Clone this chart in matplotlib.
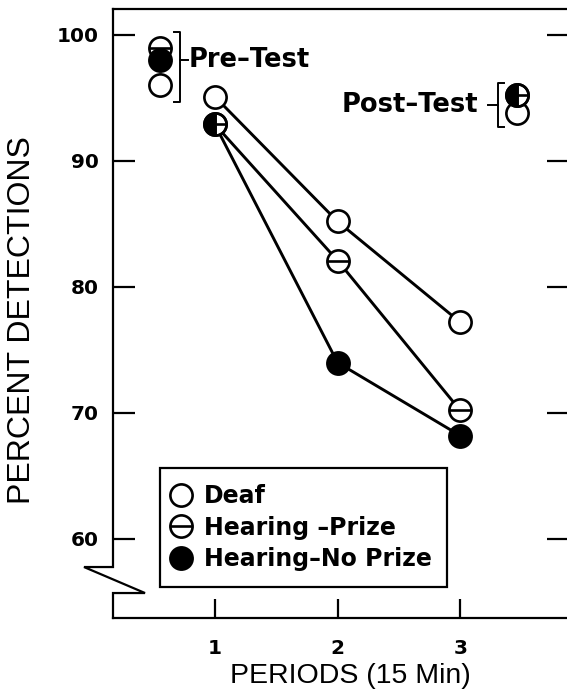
import matplotlib

matplotlib.use("Agg")

import matplotlib.pyplot as plt  # isort: skip
from matplotlib.lines import Line2D  # isort: skip


periods = [1, 2, 3]
period_labels = ["1", "2", "3"]
deaf = [95.1, 85.2, 77.2]
hearing_prize = [92.9, 82.1, 70.2]
hearing_no_prize = [92.9, 74.0, 68.2]

# deaf, hearing-prize, hearing-no prize
pre_test = [96.0, 99.0, 98.0]
post_test = [93.8, 95.2, 95.2]

y_ticks = [60, 70, 80, 90, 100]

PRE_X = 0.55
POST_X = 3.46

MS = 16
MEW = 1.9
LW = 2.1
BOLD = {"family": "DejaVu Sans", "weight": "bold"}
PLAIN = {"family": "Liberation Sans"}
DASH = "\u2013"


def open_circle(ax, x, y):
    ax.plot(x, y, "o", ls="none", ms=MS, mfc="white", mec="black", mew=MEW, zorder=3)


def bar_circle(ax, x, y):
    open_circle(ax, x, y)
    ax.plot(x, y, "_", ls="none", ms=MS, mec="black", mew=MEW, zorder=3)


def filled_circle(ax, x, y, fillstyle="full"):
    ax.plot(x, y, "o", ls="none", ms=MS, mfc="black", mec="black", mew=MEW,
            fillstyle=fillstyle, markerfacecoloralt="none", zorder=4)


def draw_no_prize(ax, xs, ys, ref):
    # where the two hearing groups coincide, show a half-filled symbol
    for x, y, r in zip(xs, ys, ref):
        filled_circle(ax, [x], [y], "left" if y == r else "full")


fig = plt.figure(figsize=(5.67, 7.0), dpi=100)
ax = fig.add_axes([113 / 567, 82 / 700, 456 / 567, 609 / 700])

# connected lines for the test periods
for series in (deaf, hearing_prize, hearing_no_prize):
    ax.plot(periods, series, color="black", lw=LW, zorder=2)

open_circle(ax, periods, deaf)
bar_circle(ax, periods, hearing_prize)
draw_no_prize(ax, periods, hearing_no_prize, hearing_prize)

# pre-test
bar_circle(ax, [PRE_X], [pre_test[1]])
filled_circle(ax, [PRE_X], [pre_test[2]])
open_circle(ax, [PRE_X], [pre_test[0]])

# post-test
open_circle(ax, [POST_X], [post_test[0]])
bar_circle(ax, [POST_X], [post_test[1]])
draw_no_prize(ax, [POST_X], [post_test[2]], [post_test[1]])

# brackets
lo, hi = min(pre_test) - 1.3, max(pre_test) + 1.2
bx = PRE_X + 0.165
ax.plot([bx - 0.05, bx, bx, bx - 0.05], [hi, hi, lo, lo], color="black", lw=1.4)
ax.plot([bx, bx + 0.07], [98.0, 98.0], color="black", lw=1.4)
ax.text(bx + 0.07, 98.0, f"Pre{DASH}Test", fontsize=18.5, ha="left", va="center", **BOLD)

lo, hi = min(post_test) - 1.1, max(post_test) + 1.0
bx = POST_X - 0.155
ax.plot([bx + 0.05, bx, bx, bx + 0.05], [hi, hi, lo, lo], color="black", lw=1.4)
ymid = (lo + hi) / 2
ax.plot([bx - 0.08, bx], [ymid, ymid], color="black", lw=1.4)
ax.text(bx - 0.16, ymid, f"Post{DASH}Test", fontsize=18.5, ha="right", va="center", **BOLD)

ax.set_xlim(0.17, 3.886)
ax.set_ylim(53.73, 102.06)
ax.set_xticks(periods)
ax.set_xticklabels(period_labels)
ax.set_yticks(y_ticks)
ax.tick_params(axis="y", direction="in", length=16, width=1.6, right=True, pad=10)
ax.tick_params(axis="x", direction="in", length=14, width=1.6, pad=15)
for lab in ax.get_xticklabels() + ax.get_yticklabels():
    lab.set_fontsize(14.5)
    lab.set_fontfamily("DejaVu Sans")
    lab.set_fontweight("bold")

for side in ("top", "bottom", "right"):
    ax.spines[side].set_linewidth(1.6)
ax.spines["left"].set_visible(False)

# left axis with a break near the bottom
brk = [(0, 1), (0, 0.0837), (-0.0636, 0.0837), (0.0702, 0.041), (0, 0.041), (0, 0)]
ax.plot([p[0] for p in brk], [p[1] for p in brk], color="black", lw=1.6,
        transform=ax.transAxes, clip_on=False, solid_joinstyle="miter")

handles = [
    Line2D([], [], marker="o", ls="none", ms=MS, mfc="white", mec="black", mew=MEW),
    (Line2D([], [], marker="o", ls="none", ms=MS, mfc="white", mec="black", mew=MEW),
     Line2D([], [], marker="_", ls="none", ms=MS, mec="black", mew=MEW)),
    Line2D([], [], marker="o", ls="none", ms=MS, mfc="black", mec="black", mew=MEW),
]
labels = ["Deaf", f"Hearing {DASH}Prize", f"Hearing{DASH}No Prize"]
leg = ax.legend(handles, labels, loc="lower left", bbox_to_anchor=(0.103, 0.051),
                borderaxespad=0, fancybox=False, framealpha=1, edgecolor="black",
                handlelength=0.47, handletextpad=0.72, labelspacing=0.33,
                borderpad=0.66, prop={"family": "DejaVu Sans", "weight": "bold", "size": 17})
leg.get_frame().set_linewidth(1.6)

fig.text(22 / 567, 1 - 320 / 700, "PERCENT DETECTIONS", rotation=90, fontsize=23,
         ha="center", va="center", **PLAIN)
fig.text(350 / 567, 1 - 676 / 700, "PERIODS (15 Min)", fontsize=20.5,
         ha="center", va="center", **PLAIN)

fig.savefig("out.png", dpi=100)
